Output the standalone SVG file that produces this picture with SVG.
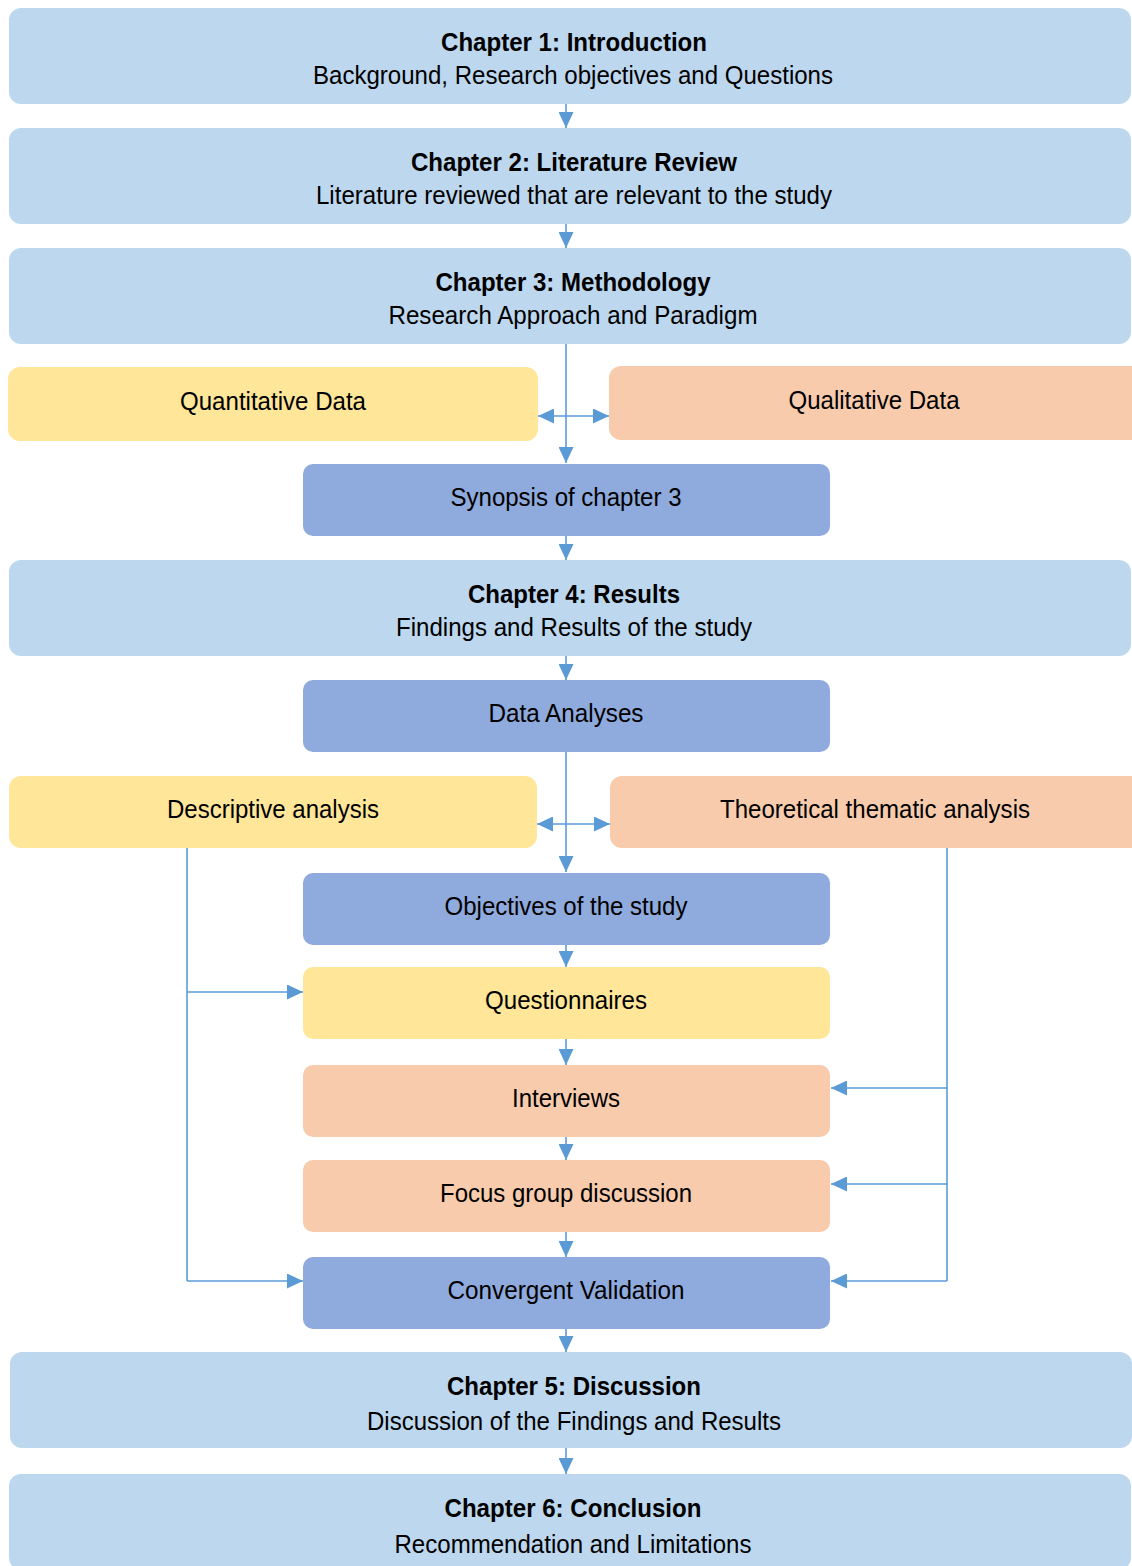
<svg xmlns="http://www.w3.org/2000/svg" width="1132" height="1566" viewBox="0 0 1132 1566">
<defs>
<style>
.ch{fill:#BDD7EE}
.yl{fill:#FFE699}
.pc{fill:#F8CBAD}
.bl{fill:#8FAADC}
text{font-family:"Liberation Sans Narrow","Arial Narrow","Liberation Sans",sans-serif;font-size:26px;fill:#000;text-anchor:middle}
.b{font-weight:bold}
.c{fill:none;stroke:#5B9BD5;stroke-width:1.6}
</style>
<marker id="ah" viewBox="0 0 16 15" refX="16" refY="7.5" markerWidth="16" markerHeight="15" markerUnits="userSpaceOnUse" orient="auto-start-reverse">
<path d="M0,0 L16,7.5 L0,15 Z" fill="#5B9BD5"/>
</marker>
</defs>
<rect width="1132" height="1566" fill="#fff"/>
<g id="connectors">
<path class="c" d="M566,104 V128" marker-end="url(#ah)"/>
<path class="c" d="M566,224 V248" marker-end="url(#ah)"/>
<path class="c" d="M566,344 V463" marker-end="url(#ah)"/>
<path class="c" d="M538,416 H609" marker-start="url(#ah)" marker-end="url(#ah)"/>
<path class="c" d="M566,536 V560" marker-end="url(#ah)"/>
<path class="c" d="M566,656 V680" marker-end="url(#ah)"/>
<path class="c" d="M566,752 V872" marker-end="url(#ah)"/>
<path class="c" d="M537,824 H610" marker-start="url(#ah)" marker-end="url(#ah)"/>
<path class="c" d="M566,945 V967" marker-end="url(#ah)"/>
<path class="c" d="M566,1039 V1065" marker-end="url(#ah)"/>
<path class="c" d="M566,1137 V1160" marker-end="url(#ah)"/>
<path class="c" d="M566,1232 V1257" marker-end="url(#ah)"/>
<path class="c" d="M566,1329 V1352" marker-end="url(#ah)"/>
<path class="c" d="M566,1448 V1474" marker-end="url(#ah)"/>
<path class="c" d="M187,848 V1281"/>
<path class="c" d="M187,992 H303" marker-end="url(#ah)"/>
<path class="c" d="M187,1281 H303" marker-end="url(#ah)"/>
<path class="c" d="M947,848 V1281"/>
<path class="c" d="M947,1088 H831" marker-end="url(#ah)"/>
<path class="c" d="M947,1184 H831" marker-end="url(#ah)"/>
<path class="c" d="M947,1281 H831" marker-end="url(#ah)"/>
</g>
<g id="ch1"><rect class="ch" x="9" y="8" width="1122" height="96" rx="12"/><text class="b" x="574" y="51" textLength="266" lengthAdjust="spacingAndGlyphs">Chapter 1: Introduction</text><text x="573" y="84" textLength="520" lengthAdjust="spacingAndGlyphs">Background, Research objectives and Questions</text></g>
<g id="ch2"><rect class="ch" x="9" y="128" width="1122" height="96" rx="12"/><text class="b" x="574" y="171" textLength="326" lengthAdjust="spacingAndGlyphs">Chapter 2: Literature Review</text><text x="574" y="204" textLength="516" lengthAdjust="spacingAndGlyphs">Literature reviewed that are relevant to the study</text></g>
<g id="ch3"><rect class="ch" x="9" y="248" width="1122" height="96" rx="12"/><text class="b" x="573" y="291" textLength="275" lengthAdjust="spacingAndGlyphs">Chapter 3: Methodology</text><text x="573" y="324" textLength="369" lengthAdjust="spacingAndGlyphs">Research Approach and Paradigm</text></g>
<g id="quant"><rect class="yl" x="8" y="367" width="530" height="74" rx="12"/><text x="273" y="410" textLength="186" lengthAdjust="spacingAndGlyphs">Quantitative Data</text></g>
<g id="qual"><rect class="pc" x="609" y="366" width="534" height="74" rx="12"/><text x="874" y="409" textLength="171" lengthAdjust="spacingAndGlyphs">Qualitative Data</text></g>
<g id="syn"><rect class="bl" x="303" y="464" width="527" height="72" rx="10"/><text x="566" y="506" textLength="231" lengthAdjust="spacingAndGlyphs">Synopsis of chapter 3</text></g>
<g id="ch4"><rect class="ch" x="9" y="560" width="1122" height="96" rx="12"/><text class="b" x="574" y="603" textLength="212" lengthAdjust="spacingAndGlyphs">Chapter 4: Results</text><text x="574" y="636" textLength="356" lengthAdjust="spacingAndGlyphs">Findings and Results of the study</text></g>
<g id="da"><rect class="bl" x="303" y="680" width="527" height="72" rx="10"/><text x="566" y="722" textLength="155" lengthAdjust="spacingAndGlyphs">Data Analyses</text></g>
<g id="desc"><rect class="yl" x="9" y="776" width="528" height="72" rx="12"/><text x="273" y="818" textLength="212" lengthAdjust="spacingAndGlyphs">Descriptive analysis</text></g>
<g id="theo"><rect class="pc" x="610" y="776" width="534" height="72" rx="12"/><text x="875" y="818" textLength="310" lengthAdjust="spacingAndGlyphs">Theoretical thematic analysis</text></g>
<g id="obj"><rect class="bl" x="303" y="873" width="527" height="72" rx="10"/><text x="566" y="915" textLength="243" lengthAdjust="spacingAndGlyphs">Objectives of the study</text></g>
<g id="quest"><rect class="yl" x="303" y="967" width="527" height="72" rx="10"/><text x="566" y="1009" textLength="162" lengthAdjust="spacingAndGlyphs">Questionnaires</text></g>
<g id="int"><rect class="pc" x="303" y="1065" width="527" height="72" rx="10"/><text x="566" y="1107" textLength="108" lengthAdjust="spacingAndGlyphs">Interviews</text></g>
<g id="fgd"><rect class="pc" x="303" y="1160" width="527" height="72" rx="10"/><text x="566" y="1202" textLength="252" lengthAdjust="spacingAndGlyphs">Focus group discussion</text></g>
<g id="cv"><rect class="bl" x="303" y="1257" width="527" height="72" rx="10"/><text x="566" y="1299" textLength="237" lengthAdjust="spacingAndGlyphs">Convergent Validation</text></g>
<g id="ch5"><rect class="ch" x="10" y="1352" width="1122" height="96" rx="12"/><text class="b" x="574" y="1395" textLength="254" lengthAdjust="spacingAndGlyphs">Chapter 5: Discussion</text><text x="574" y="1430" textLength="414" lengthAdjust="spacingAndGlyphs">Discussion of the Findings and Results</text></g>
<g id="ch6"><rect class="ch" x="9" y="1474" width="1122" height="96" rx="12"/><text class="b" x="573" y="1517" textLength="257" lengthAdjust="spacingAndGlyphs">Chapter 6: Conclusion</text><text x="573" y="1553" textLength="357" lengthAdjust="spacingAndGlyphs">Recommendation and Limitations</text></g>
</svg>
